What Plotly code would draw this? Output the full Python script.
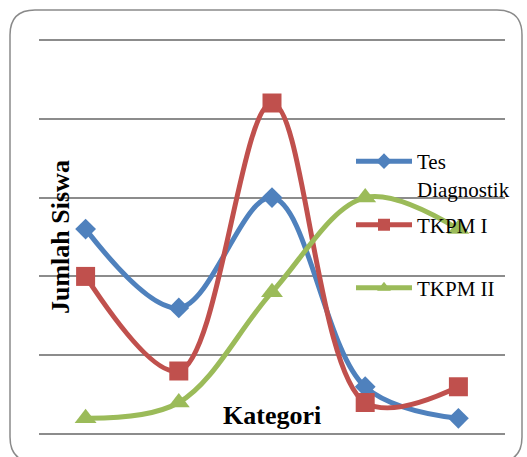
import plotly.graph_objects as go

categories = ["K1", "K2", "K3", "K4", "K5"]
tes_diagnostik = [13, 8, 15, 3, 1]
tkpm_1 = [10, 4, 21, 2, 3]
tkpm_2 = [1, 2, 9, 15, 13]
y_ticks = [0, 5, 10, 15, 20, 25]

OFF = 0  # body margin removed in post_script
W, H = 527, 457
Y_PAD = 0.25  # value units of padding so edge gridlines are drawn
# page coords of y=0 and y=25, and of the x plot edges
PX_L, PX_R, PY_TOP, PY_BOT = 39, 505, 40, 434
ppu = (PY_BOT - PY_TOP) / (y_ticks[-1] - y_ticks[0])
pad_px = Y_PAD * ppu
L = PX_L - OFF
R = W - (PX_R - OFF)
T = PY_TOP - OFF - pad_px
B = H - (PY_BOT - OFF + pad_px)
pw, ph = W - L - R, H - T - B

def px2paper(x, y):
    x, y = x - OFF, y - OFF
    return (x - L) / pw, (H - B - y) / ph

FONT = "Liberation Serif"

fig = go.Figure()
fig.add_trace(go.Scatter(
    x=categories, y=tes_diagnostik, name="Tes<br>Diagnostik", mode="lines+markers",
    line=dict(color="#4F81BD", width=5, shape="spline", smoothing=1),
    marker=dict(symbol="diamond", size=16, color="#4F81BD"), legend="legend"))
fig.add_trace(go.Scatter(
    x=categories, y=tkpm_1, name="TKPM I", mode="lines+markers",
    line=dict(color="#C0504D", width=5, shape="spline", smoothing=1),
    marker=dict(symbol="square", size=19, color="#C0504D"), legend="legend2"))
fig.add_trace(go.Scatter(
    x=categories, y=tkpm_2, name="TKPM II", mode="lines+markers",
    line=dict(color="#9BBB59", width=5, shape="spline", smoothing=1),
    marker=dict(symbol="triangle-up", size=19, color="#9BBB59"), legend="legend3"))

# rounded border
x0, y0 = px2paper(10, 10)
x1, y1 = px2paper(522, 462)
r = 25
rx, ry = r / pw, r / ph
path = (f"M {x0+rx},{y0} L {x1-rx},{y0} Q {x1},{y0} {x1},{y0-ry} "
        f"L {x1},{y1+ry} Q {x1},{y1} {x1-rx},{y1} L {x0+rx},{y1} Q {x0},{y1} {x0},{y1+ry} "
        f"L {x0},{y0-ry} Q {x0},{y0} {x0+rx},{y0} Z")
fig.add_shape(type="path", path=path, xref="paper", yref="paper",
              line=dict(color="#8a8a8a", width=1.5), layer="below")

ax, ay = px2paper(272, 415)
fig.add_annotation(x=ax, y=ay, xref="paper", yref="paper", text="<b>Kategori</b>",
                   xanchor="center", yanchor="middle",
                   showarrow=False, font=dict(family=FONT, size=26, color="black"))
yx, yy = px2paper(60, 237)
fig.add_annotation(x=yx, y=yy, xref="paper", yref="paper", text="<b>Jumlah Siswa</b>",
                   xanchor="center", yanchor="middle",
                   showarrow=False, textangle=-90, font=dict(family=FONT, size=26, color="black"))

lx, _ = px2paper(351, 0)
leg_common = dict(x=lx, xanchor="left", yanchor="middle", bgcolor="rgba(0,0,0,0)",
                  font=dict(family=FONT, size=21, color="black"), valign="top",
                  itemwidth=56, itemsizing="constant")
_, l1 = px2paper(0, 175)
_, l2 = px2paper(0, 225)
_, l3 = px2paper(0, 288)

fig.update_layout(
    width=W, height=H, margin=dict(l=L, r=R, t=T, b=B, autoexpand=False),
    font=dict(family=FONT, color="black"),
    paper_bgcolor="white", plot_bgcolor="white",
    showlegend=True,
    legend=dict(y=l1, **leg_common),
    legend2=dict(y=l2, **leg_common),
    legend3=dict(y=l3, **leg_common),
    xaxis=dict(range=[-0.5, 4.5], showticklabels=False, showgrid=False, zeroline=False,
               showline=False, ticks=""),
    yaxis=dict(range=[y_ticks[0] - Y_PAD, y_ticks[-1] + Y_PAD], tickvals=y_ticks,
               showticklabels=False, showgrid=True,
               gridcolor="#8c8c8c", gridwidth=1.5, zeroline=False, showline=False, ticks=""),
)

fig.write_html("out.html",
               config={"displayModeBar": False},
               post_script="document.body.style.margin='0';"
                           "document.documentElement.style.overflow='hidden';"
                           "document.body.style.overflow='hidden';")
